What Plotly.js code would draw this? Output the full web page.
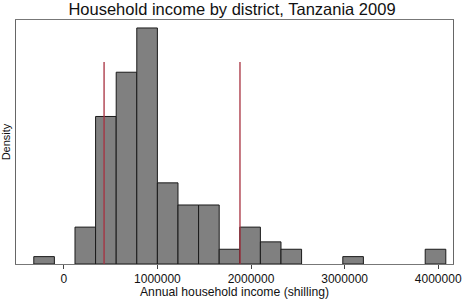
<!DOCTYPE html>
<html>
<head>
<meta charset="utf-8">
<script src="https://cdn.plot.ly/plotly-3.0.1.min.js"></script>
<style>html,body{margin:0;padding:0;background:#fff;}#chart{width:464px;height:299px;}</style>
</head>
<body>
<div id="chart"></div>
<script>
// Histogram bins (centers in shilling) and counts of districts
var binCenters = [-210900, 229300, 449400, 669500, 889600, 1109700, 1329800, 1549900, 1770000, 1990100, 2210200, 2430300, 3090600, 3971000];
var binCounts  = [1, 5, 20, 26, 32, 11, 8, 8, 2, 5, 3, 2, 1, 2];
var binWidth = 220100;
// Reference lines (shilling) and their height (in count units)
var refLineX = [430000, 1882000];
var refLineTop = 27.4;
var xTickVals = [0, 1000000, 2000000, 3000000, 4000000];
var xTickText = ["0", "1000000", "2000000", "3000000", "4000000"];

var traces = [{
  type: 'bar',
  x: binCenters,
  y: binCounts,
  width: binCounts.map(function(){return binWidth;}),
  marker: {color: '#808080', line: {color: '#1a1a1a', width: 1}},
  hoverinfo: 'skip'
}];
refLineX.forEach(function(v){
  traces.push({
    type: 'scatter', mode: 'lines',
    x: [v, v], y: [0, refLineTop],
    line: {color: '#a8303f', width: 1.3},
    hoverinfo: 'skip'
  });
});

var layout = {
  width: 464, height: 299,
  margin: {l: 16, r: 11, t: 20, b: 35, pad: 0},
  paper_bgcolor: '#fff', plot_bgcolor: '#fff',
  showlegend: false,
  bargap: 0,
  font: {family: 'Liberation Sans, Arial, sans-serif', color: '#111'},
  title: {text: 'Household income by district, Tanzania 2009', font: {size: 16.5, color: '#111'}, x: 0.5, xanchor: 'center', y: 0.995, yanchor: 'top', pad: {t: 2}},
  xaxis: {
    range: [-511000, 4158000],
    tickvals: xTickVals, ticktext: xTickText,
    ticks: 'outside', ticklen: 4, tickcolor: '#444', tickwidth: 1,
    tickfont: {size: 12, color: '#111'},
    showgrid: false, zeroline: false,
    showline: true, linecolor: '#777', linewidth: 1, mirror: true,
    title: {text: 'Annual household income (shilling)', font: {size: 12.2, color: '#111'}, standoff: 0}
  },
  yaxis: {
    range: [0, 33.08],
    showticklabels: false, ticks: '',
    showgrid: false, zeroline: false,
    showline: true, linecolor: '#666', linewidth: 1, mirror: true,
    title: {text: 'Density', font: {size: 11, color: '#111'}, standoff: 2}
  }
};
Plotly.newPlot('chart', traces, layout, {staticPlot: true, displayModeBar: false});
</script>
</body>
</html>
